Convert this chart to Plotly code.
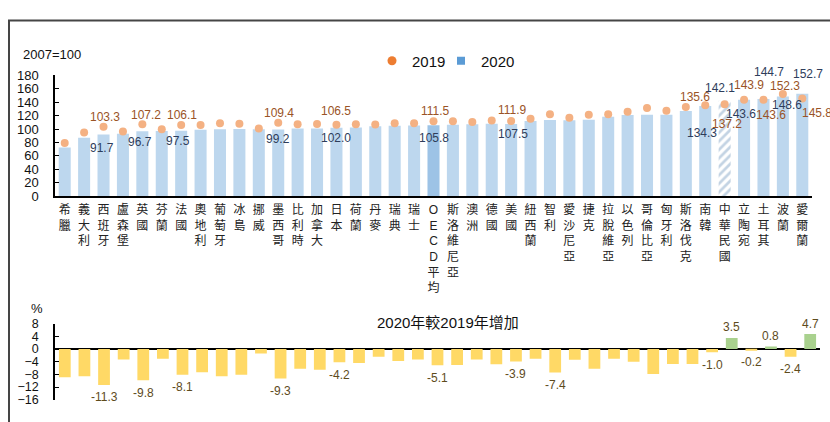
import plotly.graph_objects as go

# ---------------- data ----------------
countries = ["希臘", "義大利", "西班牙", "盧森堡", "英國", "芬蘭", "法國", "奧地利", "葡萄牙", "冰島",
             "挪威", "墨西哥", "比利時", "加拿大", "日本", "荷蘭", "丹麥", "瑞典", "瑞士", "OECD平均",
             "斯洛維尼亞", "澳洲", "德國", "美國", "紐西蘭", "智利", "愛沙尼亞", "捷克", "拉脫維亞", "以色列",
             "哥倫比亞", "匈牙利", "斯洛伐克", "南韓", "中華民國", "立陶宛", "土耳其", "波蘭", "愛爾蘭"]

idx2020 = [72.5, 86.9, 91.7, 93.1, 96.7, 97.0, 97.5, 99.0, 99.8, 100.0,
           99.7, 99.2, 100.9, 100.9, 102.0, 102.3, 104.2, 105.0, 105.2, 105.8,
           106.3, 107.0, 108.0, 107.5, 112.0, 113.4, 113.3, 113.8, 118.2, 121.0,
           121.2, 121.5, 126.8, 134.3, 142.1, 143.6, 144.7, 148.6, 152.7]

idx2019 = [79.3, 94.8, 103.3, 96.4, 107.2, 99.8, 106.1, 106.0, 108.5, 108.0,
           100.8, 109.4, 107.3, 107.5, 106.5, 107.2, 106.7, 108.8, 108.7, 111.5,
           111.6, 110.5, 112.9, 111.9, 115.5, 122.3, 117.0, 121.2, 122.0, 126.0,
           131.3, 127.4, 133.0, 135.6, 137.2, 143.9, 143.6, 152.3, 145.8]

growth = [-8.9, -8.6, -11.3, -3.3, -9.8, -3.1, -8.1, -7.3, -8.6, -8.1,
          -1.4, -9.3, -6.2, -6.5, -4.2, -4.4, -2.4, -3.8, -3.3, -5.1,
          -5.0, -3.3, -4.8, -3.9, -3.1, -7.4, -3.4, -6.2, -3.1, -4.0,
          -7.9, -4.7, -4.7, -1.0, 3.5, -0.2, 0.8, -2.4, 4.7]

label_countries = ["西班牙", "英國", "法國", "墨西哥", "日本", "OECD平均", "美國",
                   "南韓", "中華民國", "立陶宛", "土耳其", "波蘭", "愛爾蘭"]
growth_label_countries = ["西班牙", "英國", "法國", "墨西哥", "日本", "OECD平均", "美國", "智利",
                          "南韓", "中華民國", "立陶宛", "土耳其", "波蘭", "愛爾蘭"]

# label offsets in pixels (dx, dy where dy>0 = down)
off2019 = {"西班牙": (1.5, -9.5), "英國": (3.5, -9), "法國": (1, -9.5), "墨西哥": (1, -9.5),
           "日本": (0, -14), "OECD平均": (1.5, -10), "美國": (1, -11.5), "南韓": (-10, -8.5),
           "中華民國": (2.5, 20), "立陶宛": (5, -14.5), "土耳其": (7.5, 15.5), "波蘭": (2, -8.5),
           "愛爾蘭": (14.5, 15)}
off2020 = {"西班牙": (-1.5, 13.5), "英國": (-2.5, 10.5), "法國": (-3, 10), "墨西哥": (0, 9),
           "日本": (0, 10), "OECD平均": (0, 12.5), "美國": (2, 9.5), "南韓": (-3, 26.5),
           "中華民國": (-4.5, -12.5), "立陶宛": (-3, 14), "土耳其": (5.5, -27), "波蘭": (4, 8.5),
           "愛爾蘭": (5.5, -20)}

# ---------------- style ----------------
W, H = 830, 422
FONT = "Liberation Sans, Arial, Noto Sans CJK TC, sans-serif"
C_BAR = "#BDD7EE"
C_OECD = "#9DC3E6"
C_TW = "#C3D3E3"
C_DOT = "#F4B183"
C_LBL19 = "#9A5326"
C_LBL20 = "#2E3D5B"
C_LBLG = "#5E4B1C"


def fx(p):
    return p / W


def fy(p):
    return 1 - p / H


vert = ["<br>".join(list(c)) for c in countries]

bar_colors = []
pat_shapes = []
for c in countries:
    if c == "OECD平均":
        bar_colors.append(C_OECD)
        pat_shapes.append("")
    elif c == "中華民國":
        bar_colors.append(C_TW)
        pat_shapes.append("/")
    else:
        bar_colors.append(C_BAR)
        pat_shapes.append("")

g_colors = ["#A9D18E" if g > 0 else "#FFD966" for g in growth]

fig = go.Figure()

fig.add_trace(go.Bar(
    x=countries, y=idx2020, width=0.62, xaxis="x", yaxis="y",
    marker=dict(color=bar_colors, line=dict(width=0),
                pattern=dict(shape=pat_shapes, fgcolor="#B9CADB", bgcolor="white",
                             size=6, solidity=0.45, fillmode="replace")),
    showlegend=False, hoverinfo="skip"))

fig.add_trace(go.Scatter(
    x=countries, y=idx2019, mode="markers", xaxis="x", yaxis="y",
    marker=dict(color=C_DOT, size=8, symbol="circle"),
    showlegend=False, cliponaxis=False, hoverinfo="skip"))

# legend entries
fig.add_trace(go.Scatter(x=[None], y=[None], mode="markers", name="2019", legend="legend",
                         marker=dict(color="#ED7D31", size=9, symbol="circle")))
fig.add_trace(go.Scatter(x=[None], y=[None], mode="markers", name="2020", legend="legend2",
                         marker=dict(color="#5B9BD5", size=8, symbol="square")))

fig.add_trace(go.Bar(
    x=countries, y=growth, width=0.6, xaxis="x2", yaxis="y2",
    marker=dict(color=g_colors, line=dict(width=0)),
    showlegend=False, hoverinfo="skip"))

annotations = []
for c in label_countries:
    i = countries.index(c)
    dx, dy = off2019[c]
    annotations.append(dict(x=c, y=idx2019[i], xref="x", yref="y", text=f"{idx2019[i]:.1f}",
                            showarrow=False, xshift=dx, yshift=-dy,
                            font=dict(family=FONT, size=12, color=C_LBL19)))
    dx, dy = off2020[c]
    annotations.append(dict(x=c, y=idx2020[i], xref="x", yref="y", text=f"{idx2020[i]:.1f}",
                            showarrow=False, xshift=dx, yshift=-dy,
                            font=dict(family=FONT, size=12, color=C_LBL20)))
for c in growth_label_countries:
    i = countries.index(c)
    g = growth[i]
    annotations.append(dict(x=c, y=g, xref="x2", yref="y2", text=f"{g:.1f}",
                            showarrow=False, xshift=0, yshift=(10.5 if g > 0 else -12.5),
                            font=dict(family=FONT, size=12, color=C_LBLG)))

annotations.append(dict(x=fx(21), y=fy(49), xref="paper", yref="paper", text="2007=100",
                        xanchor="left", yanchor="middle", showarrow=False,
                        font=dict(family=FONT, size=13, color="#111")))
annotations.append(dict(x=fx(37), y=fy(313), xref="paper", yref="paper", text="%",
                        xanchor="center", yanchor="middle", showarrow=False,
                        font=dict(family=FONT, size=13, color="#111")))
annotations.append(dict(x=fx(448), y=fy(327), xref="paper", yref="paper", text="2020年較2019年增加",
                        xanchor="center", yanchor="middle", showarrow=False,
                        font=dict(family=FONT, size=15, color="#111")))

shapes = [dict(type="rect", xref="paper", yref="paper", x0=fx(9), x1=fx(845), y0=fy(440), y1=fy(14),
               line=dict(color="#454545", width=2), fillcolor="rgba(0,0,0,0)", layer="above")]

legend_common = dict(orientation="h", yanchor="middle", xanchor="left",
                     font=dict(family=FONT, size=15, color="#111"), bgcolor="rgba(0,0,0,0)",
                     itemsizing="trace")

fig.update_layout(
    width=W, height=H, margin=dict(l=0, r=0, t=0, b=0),
    paper_bgcolor="white", plot_bgcolor="white",
    font=dict(family=FONT, size=13, color="#111"),
    showlegend=True,
    legend=dict(x=fx(372), y=fy(56), **legend_common),
    legend2=dict(x=fx(441), y=fy(56), **legend_common),
    annotations=annotations,
    shapes=shapes,
    xaxis=dict(domain=[fx(55), fx(812)], anchor="y", type="category", range=[-0.5, 38.5],
               showline=True, linecolor="black", linewidth=1.5, ticks="",
               tickvals=countries, ticktext=vert, tickangle=0, showgrid=False,
               tickfont=dict(family=FONT, size=12, color="#222"), ticklabelstandoff=2),
    yaxis=dict(domain=[fy(196), fy(71)], anchor="x", range=[0, 180], dtick=20,
               showline=True, linecolor="black", linewidth=1.5, ticks="inside", ticklen=4,
               tickcolor="black", showgrid=False, zeroline=False, ticklabelstandoff=12,
               tickfont=dict(family=FONT, size=13, color="#111")),
    xaxis2=dict(domain=[fx(55), fx(820)], anchor="y2", type="category", range=[-0.5, 38.5],
                showline=False, showticklabels=False, ticks="", showgrid=False),
    yaxis2=dict(domain=[fy(407.3), fy(328.3)], anchor="x2", range=[-16, 8],
                tickvals=[8, 4, 0, -4, -8, -12, -16],
                showline=True, linecolor="black", linewidth=1.5, ticks="inside", ticklen=4,
                tickcolor="black", showgrid=False, zeroline=True, zerolinecolor="black",
                zerolinewidth=1.5, ticklabelstandoff=12,
                tickfont=dict(family=FONT, size=12.5, color="#111")),
)

fig.write_html(
    "out.html",
    config={"displayModeBar": False},
    post_script="document.body.style.margin='0';document.body.style.padding='0';"
                "document.body.style.overflow='hidden';",
)
